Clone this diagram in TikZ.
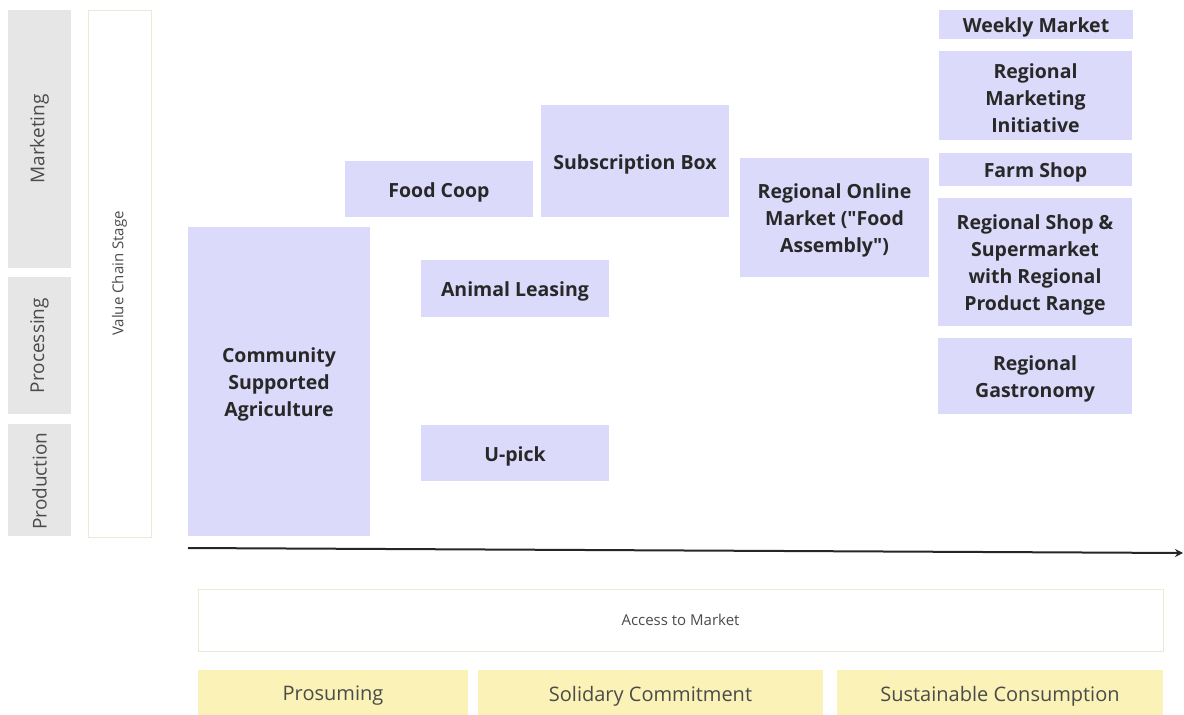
\documentclass[tikz,border=0pt]{standalone}
\usepackage{fontspec}
\setmainfont{Open Sans}
\usetikzlibrary{arrows.meta}
\definecolor{lav}{RGB}{220,218,250}
\definecolor{stagegrey}{RGB}{230,230,230}
\definecolor{pale}{RGB}{250,242,182}
\definecolor{faint}{RGB}{228,238,214}
\definecolor{txt}{RGB}{40,40,40}
\definecolor{greytxt}{RGB}{75,75,75}
\tikzset{
  box/.style={anchor=north west, inner sep=0pt, outer sep=0pt},
  lavbox/.style={box, fill=lav},
  lavtext/.style={align=center, text=txt, inner sep=0pt, font=\fontsize{19.5}{27}\selectfont\bfseries},
  stagebox/.style={box, fill=stagegrey},
  stagelabel/.style={rotate=90, font=\fontsize{19}{22}\selectfont, text=greytxt},
  whitebox/.style={box, fill=white, draw=faint, line width=1pt},
  smalltext/.style={font=\fontsize{15}{18}\selectfont, text=greytxt},
  yelbox/.style={box, fill=pale},
  yeltext/.style={font=\fontsize{20}{24}\selectfont, text=greytxt},
}
% \lavnode{name}{x}{y}{w}{h}{text}
\newcommand\lavnode[6]{%
  \node[lavbox, minimum width=#4pt, minimum height=#5pt] (#1) at (#2,#3) {};
  \node[lavtext] (#1-t) at ([yshift=-3pt]#1.center) {#6};
}
\begin{document}
\begin{tikzpicture}[x=1pt,y=-1pt]
\useasboundingbox (0,0) rectangle (1184,715);
% stage column
\node[stagebox, minimum width=63pt, minimum height=258pt] (mkt) at (8,10) {};
\node[stagelabel] (mktl) at (mkt.center) {Marketing};
\node[stagebox, minimum width=63pt, minimum height=137pt] (proc) at (8,277) {};
\node[stagelabel] (procl) at (proc.center) {Processing};
\node[stagebox, minimum width=63pt, minimum height=112pt] (prod) at (8,424) {};
\node[stagelabel] (prodl) at ([yshift=-1pt]prod.center) {Production};
\node[whitebox, minimum width=63pt, minimum height=527pt] (vcs) at (88,10) {};
\node[rotate=90, smalltext] (vcsl) at (vcs.center) {Value Chain Stage};
% lavender boxes
\lavnode{csa}{188}{227}{182}{309}{Community\\Supported\\Agriculture}
\lavnode{coop}{345}{161}{188}{56}{Food Coop}
\lavnode{sub}{541}{105}{188}{112}{Subscription Box}
\lavnode{animal}{421}{260}{188}{57}{Animal Leasing}
\lavnode{upick}{421}{425}{188}{56}{U-pick}
\lavnode{online}{740}{158}{189}{119}{Regional Online\\Market (\textquotedbl Food\\Assembly\textquotedbl)}
\lavnode{weekly}{939}{10}{194}{29}{Weekly Market}
\lavnode{rmi}{939}{51}{193}{89}{Regional\\Marketing\\Initiative}
\lavnode{farm}{939}{153}{193}{33}{Farm Shop}
\lavnode{shop}{938}{198}{194}{128}{Regional Shop \&\\Supermarket\\with Regional\\Product Range}
\lavnode{gastro}{938}{338}{194}{76}{Regional\\Gastronomy}
% axis arrow
\coordinate (a0) at (188,548);
\coordinate (a1) at (1183,553);
\draw[line width=2pt, draw=black!85, -{Stealth[length=8pt,width=8pt]}] (a0) -- (a1);
% bottom
\node[whitebox, minimum width=965pt, minimum height=62pt] (access) at (198,589) {};
\node[smalltext] (accesst) at (access.center) {Access to Market};
\node[yelbox, minimum width=270pt, minimum height=46pt] (pros) at (198,670) {};
\node[yeltext] (prost) at ([yshift=-3pt]pros.center) {Prosuming};
\node[yelbox, minimum width=345pt, minimum height=46pt] (soli) at (478,670) {};
\node[yeltext] (solit) at ([yshift=-3pt]soli.center) {Solidary Commitment};
\node[yelbox, minimum width=326pt, minimum height=46pt] (sust) at (837,670) {};
\node[yeltext] (sustt) at ([yshift=-3pt]sust.center) {Sustainable Consumption};
\end{tikzpicture}
\end{document}
